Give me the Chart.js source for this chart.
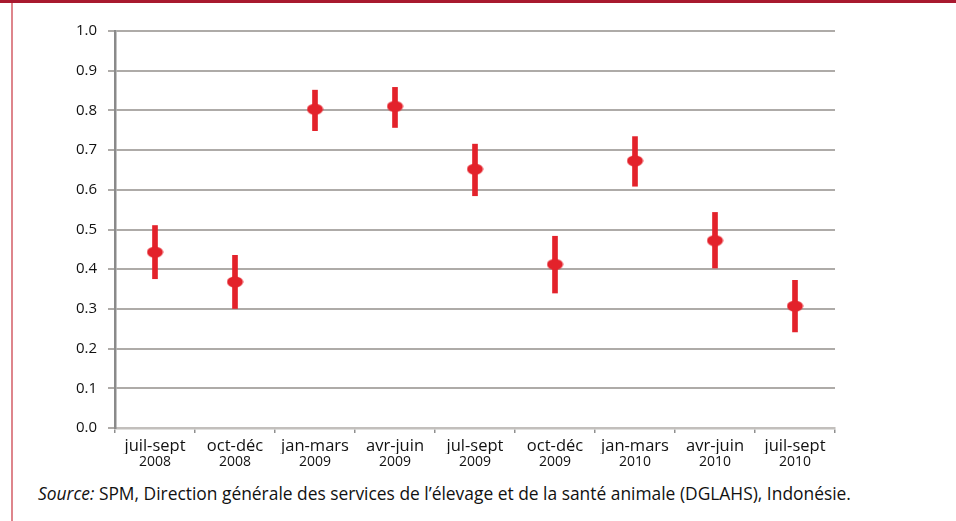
<!DOCTYPE html>
<html>
<head>
<meta charset="utf-8">
<script src="https://cdn.jsdelivr.net/npm/chart.js@4/dist/chart.umd.min.js"></script>
<style>
  body { margin: 0; background: #fff; font-family: "Open Sans", sans-serif; }
  #frame { position: relative; width: 956px; height: 521px; overflow: hidden; }
  #topbar { position: absolute; left: 0; top: 0; width: 956px; height: 3px; background: #a8192f; }
  #leftline { position: absolute; left: 11px; top: 3px; width: 2px; height: 518px; background: #de858c; }
  #wrap { position: absolute; left: 0; top: 0; width: 956px; height: 478px; }
  #source { position: absolute; left: 38px; top: 483px; font-size: 17.4px; line-height: 20px; color: #111; white-space: nowrap; }
</style>
</head>
<body>
<div id="frame">
  <div id="topbar"></div>
  <div id="leftline"></div>
  <div id="wrap"><canvas id="chart" width="956" height="478"></canvas></div>
  <div id="source"><em>Source:</em> SPM, Direction générale des services de l’élevage et de la santé animale (DGLAHS), Indonésie.</div>
</div>
<script>
// Quarters and years (two-line x labels)
const quarters = ["juil-sept", "oct-déc", "jan-mars", "avr-juin", "jul-sept", "oct-déc", "jan-mars", "avr-juin", "juil-sept"];
const years = ["2008", "2008", "2009", "2009", "2009", "2009", "2010", "2010", "2010"];

// Estimated values
const means = [0.443, 0.368, 0.803, 0.810, 0.652, 0.412, 0.673, 0.472, 0.307];
const lows = [0.376, 0.301, 0.749, 0.757, 0.585, 0.340, 0.609, 0.403, 0.242];
const highs = [0.510, 0.435, 0.851, 0.858, 0.715, 0.483, 0.734, 0.543, 0.372];

const red = "#e3222b";

// Ellipse marker used as point style
const marker = document.createElement("canvas");
marker.width = 17;
marker.height = 12;
const mctx = marker.getContext("2d");
mctx.fillStyle = red;
mctx.beginPath();
mctx.ellipse(8.5, 6, 8, 5.5, 0, 0, Math.PI * 2);
mctx.fill();

const ctx = document.getElementById("chart").getContext("2d");
new Chart(ctx, {
  type: "bar",
  data: {
    labels: quarters,
    datasets: [
      {
        type: "line",
        label: "Moyenne",
        data: means,
        showLine: false,
        pointStyle: marker,
        pointRadius: 8,
        order: 0,
      },
      {
        label: "Intervalle",
        data: lows.map((lo, i) => [lo, highs[i]]),
        backgroundColor: red,
        barThickness: 5,
        order: 1,
      },
    ],
  },
  options: {
    responsive: false,
    animation: false,
    layout: { padding: { top: 31, right: 121, bottom: 0, left: 0 } },
    plugins: {
      legend: { display: false },
      tooltip: { enabled: false },
    },
    scales: {
      x: {
        offset: true,
        weight: 0,
        grid: { offset: true, drawOnChartArea: false, drawTicks: true, tickLength: 5, color: "#8f8f8f", lineWidth: 1.5 },
        border: { color: "#c2bfbc", width: 2.5 },
        ticks: { color: "#111", padding: 3, maxRotation: 0, autoSkip: false, font: { family: "Open Sans", size: 16.5 } },
        afterFit: scale => { scale.height = 26; },
      },
      x2: {
        type: "category",
        position: "bottom",
        labels: years,
        offset: true,
        weight: 1,
        grid: { display: false, drawTicks: false },
        border: { display: false },
        ticks: { color: "#111", padding: 0, maxRotation: 0, autoSkip: false, font: { family: "Open Sans", size: 14 } },
        afterFit: scale => { scale.height = 24; },
      },
      y: {
        min: 0,
        max: 1,
        grid: { color: "#aeaba8", lineWidth: 2, tickLength: 7 },
        border: { color: "#8a8a8a", width: 2.5 },
        ticks: {
          stepSize: 0.1,
          padding: 11,
          color: "#111",
          font: { family: "Open Sans", size: 15 },
          callback: value => value.toFixed(1),
        },
        afterFit: scale => { scale.width = 115; },
      },
    },
  },
});
</script>
</body>
</html>
